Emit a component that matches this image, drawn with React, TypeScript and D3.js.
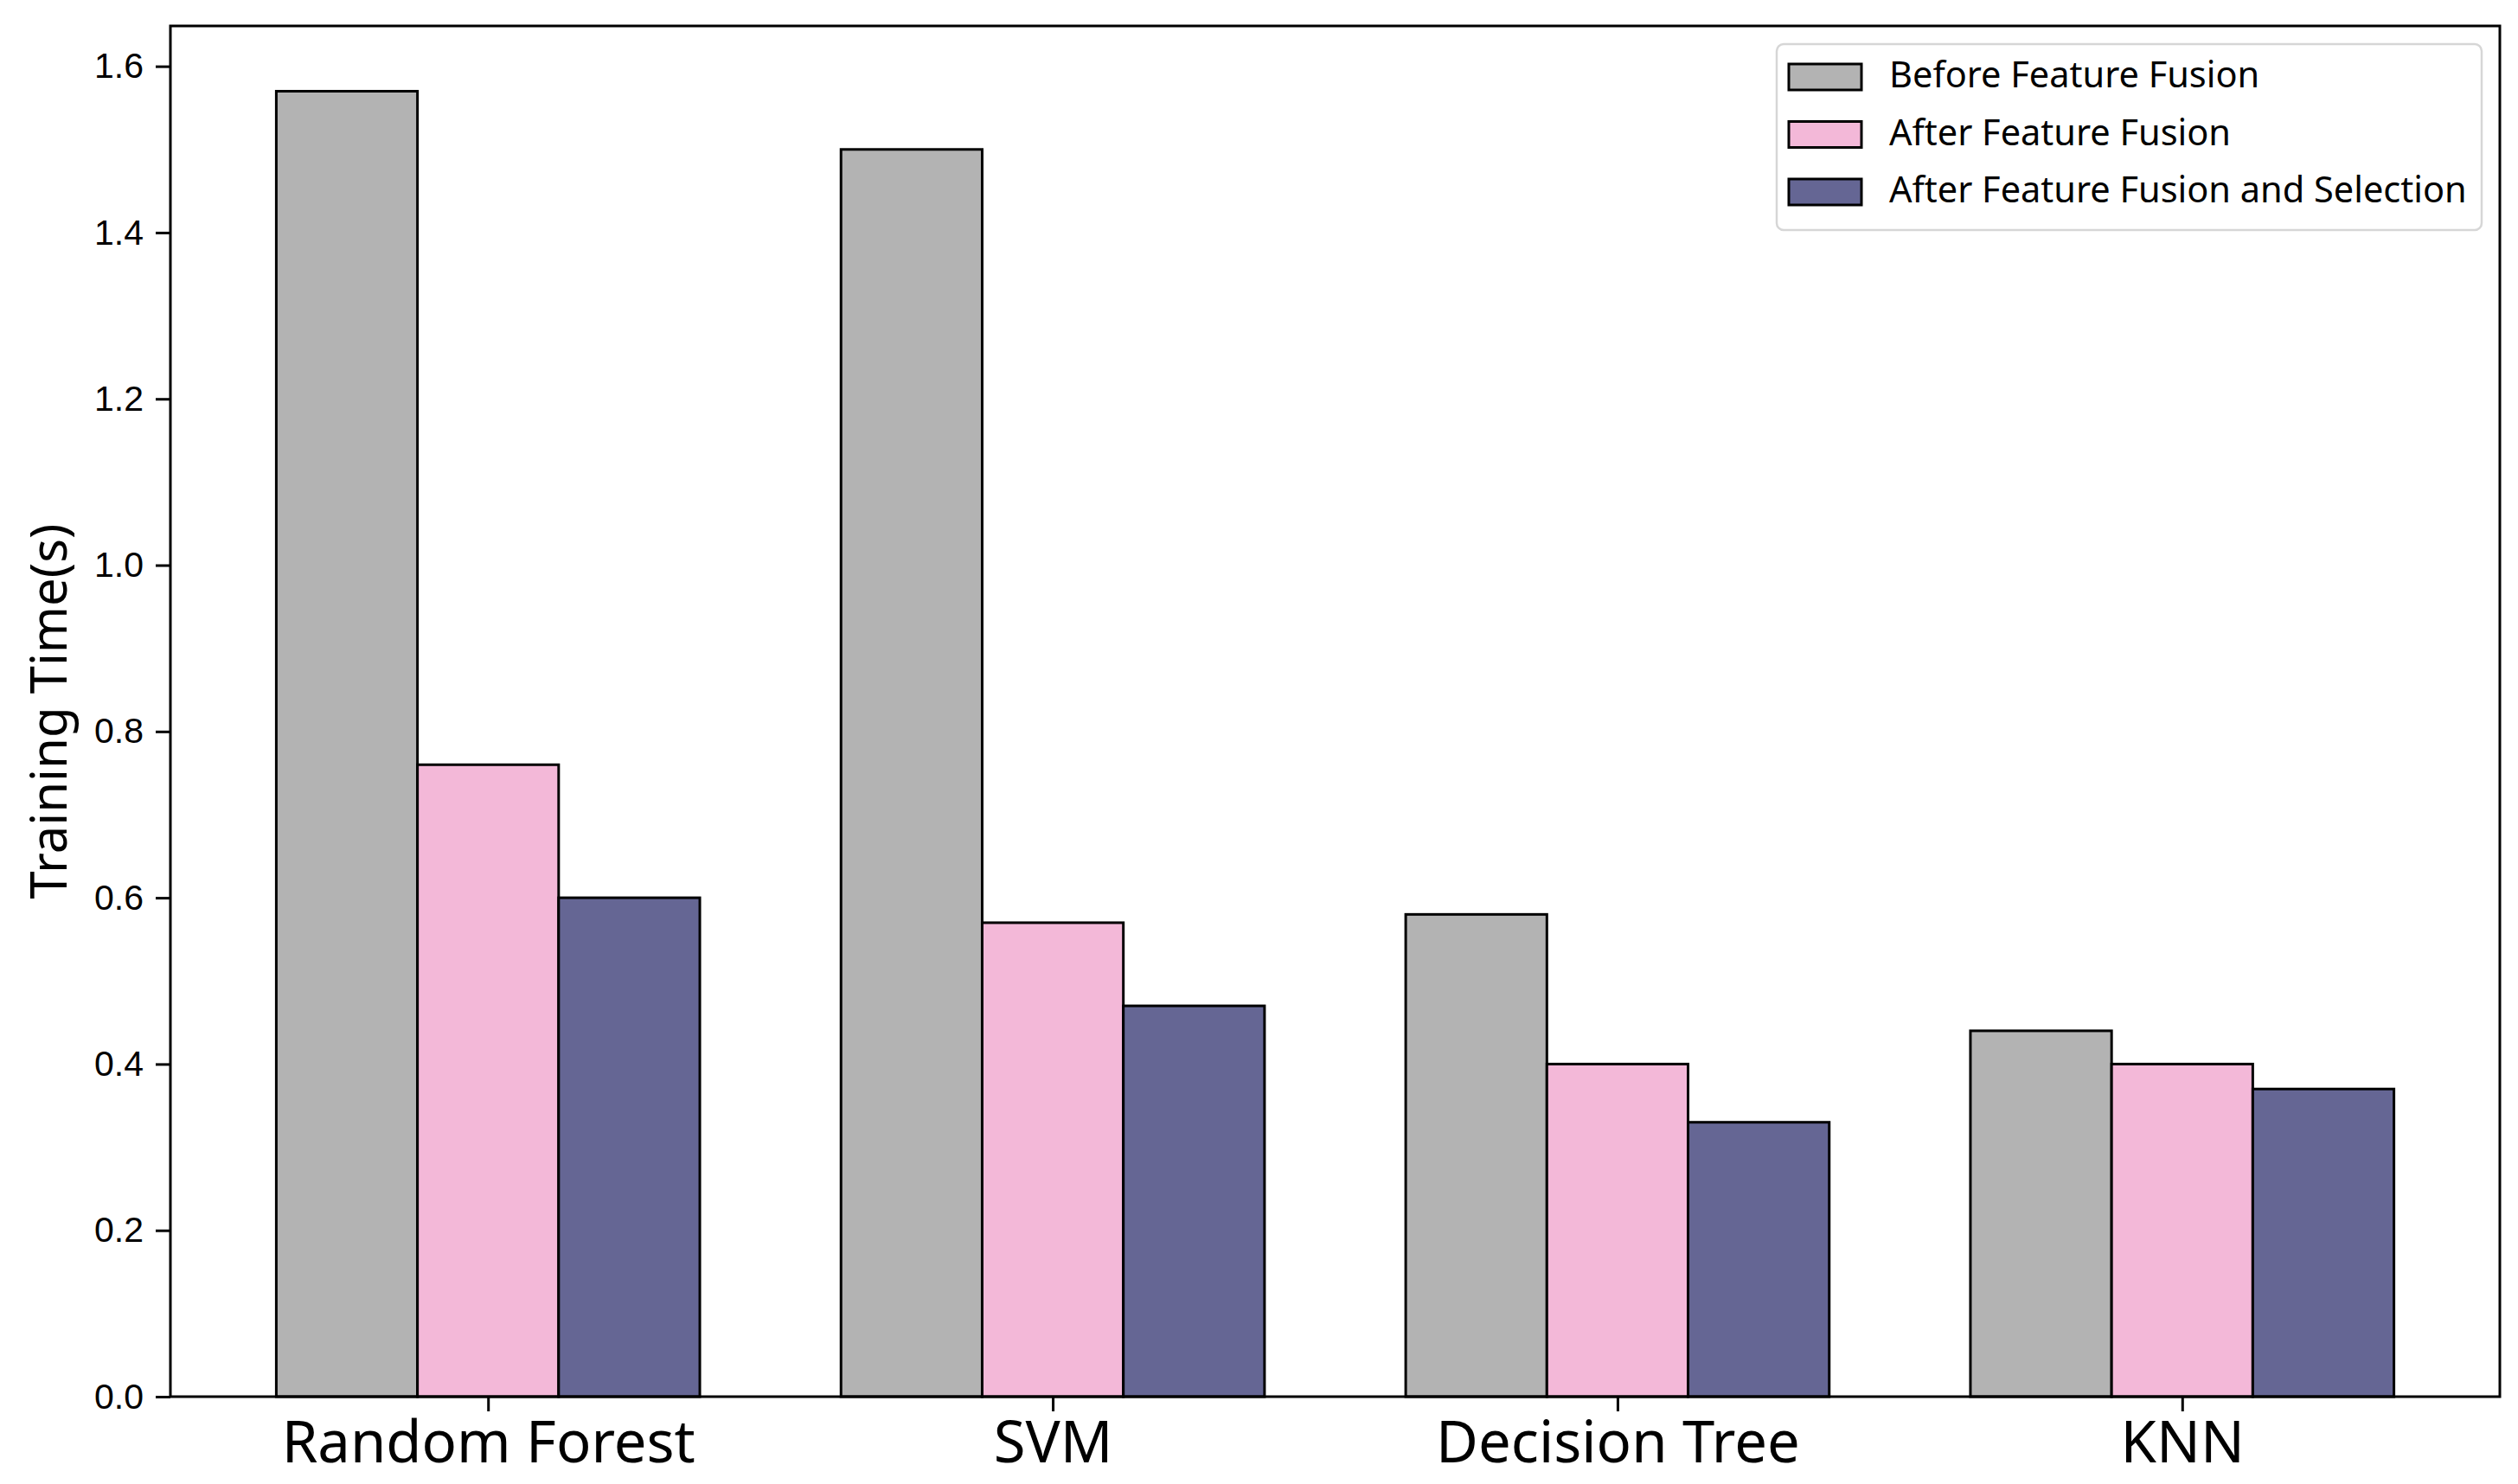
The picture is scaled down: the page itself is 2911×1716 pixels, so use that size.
import * as d3 from "d3";
import React, { RefObject, useEffect, useRef } from "react";

const categories = ["Random Forest", "SVM", "Decision Tree", "KNN"];
const seriesNames = [
  "Before Feature Fusion",
  "After Feature Fusion",
  "After Feature Fusion and Selection",
];
const beforeFusion = [1.57, 1.5, 0.58, 0.44];
const afterFusion = [0.76, 0.57, 0.4, 0.4];
const afterSelection = [0.6, 0.47, 0.33, 0.37];
const yTicks = [0, 0.2, 0.4, 0.6, 0.8, 1.0, 1.2, 1.4, 1.6];
const colors = ["#b3b3b3", "#f3b8d8", "#656694"];

const width = 2911;
const height = 1716;
const margin = { top: 30, right: 21, bottom: 101, left: 197 };
const humanFont = "'Noto Sans', 'Open Sans', sans-serif";
const tickFont = "'Liberation Sans', Arial, sans-serif";

const App = () => {
  const d3Ref: RefObject<HTMLDivElement> = useRef(null);

  useEffect(() => {
    document.body.style.margin = "0";
    const series = [beforeFusion, afterFusion, afterSelection];
    const barWidth = 0.25;

    d3.select(d3Ref.current).selectAll("*").remove();
    const svg = d3
      .select(d3Ref.current)
      .append("svg")
      .attr("width", width)
      .attr("height", height)
      .style("display", "block")
      .style("background", "#fff");

    const x0 = -0.5625;
    const x1 = categories.length - 1 + 0.5625;
    const xScale = d3
      .scaleLinear()
      .domain([x0, x1])
      .range([margin.left, width - margin.right]);
    const yMax = d3.max(beforeFusion)! * 1.05;
    const yScale = d3
      .scaleLinear()
      .domain([0, yMax])
      .range([height - margin.bottom, margin.top]);

    // bars
    series.forEach((s, j) => {
      svg
        .append("g")
        .selectAll("rect")
        .data(s)
        .enter()
        .append("rect")
        .attr("x", (d, i) => xScale(i + (j - 1) * barWidth - barWidth / 2))
        .attr("y", (d) => yScale(d))
        .attr("width", xScale(barWidth) - xScale(0))
        .attr("height", (d) => yScale(0) - yScale(d))
        .attr("fill", colors[j])
        .attr("stroke", "#000")
        .attr("stroke-width", 3);
    });

    // y axis
    const yAxis = svg
      .append("g")
      .attr("transform", `translate(${margin.left},0)`)
      .call(
        d3
          .axisLeft(yScale)
          .tickValues(yTicks)
          .tickFormat(d3.format(".1f"))
          .tickSize(17)
          .tickPadding(14)
      );
    yAxis.select(".domain").remove();
    yAxis.selectAll("line").attr("stroke", "#000").attr("stroke-width", 3);
    yAxis
      .selectAll("text")
      .attr("font-family", tickFont)
      .attr("font-size", 41)
      .attr("fill", "#000");

    // x axis
    const xAxis = svg
      .append("g")
      .attr("transform", `translate(0,${height - margin.bottom})`)
      .call(
        d3
          .axisBottom(xScale)
          .tickValues(categories.map((c, i) => i))
          .tickFormat((d) => categories[d as number])
          .tickSize(17)
          .tickPadding(11)
      );
    xAxis.select(".domain").remove();
    xAxis.selectAll("line").attr("stroke", "#000").attr("stroke-width", 3);
    xAxis
      .selectAll("text")
      .attr("font-family", humanFont)
      .attr("font-size", 67)
      .attr("fill", "#000");

    // frame
    svg
      .append("rect")
      .attr("x", margin.left)
      .attr("y", margin.top)
      .attr("width", width - margin.left - margin.right)
      .attr("height", height - margin.top - margin.bottom)
      .attr("fill", "none")
      .attr("stroke", "#000")
      .attr("stroke-width", 3);

    // y label
    svg
      .append("text")
      .attr("transform", `translate(77,${(margin.top + height - margin.bottom) / 2}) rotate(-90)`)
      .attr("text-anchor", "middle")
      .attr("font-family", humanFont)
      .attr("font-size", 58)
      .attr("fill", "#000")
      .text("Training Time(s)");

    // legend
    const legend = svg.append("g");
    legend
      .append("rect")
      .attr("x", 2054)
      .attr("y", 51)
      .attr("width", 815)
      .attr("height", 215)
      .attr("rx", 8)
      .attr("fill", "#fff")
      .attr("fill-opacity", 0.8)
      .attr("stroke", "#d6d6d6")
      .attr("stroke-width", 2.5);
    seriesNames.forEach((name, j) => {
      const cy = 89 + j * 66.5;
      legend
        .append("rect")
        .attr("x", 2068)
        .attr("y", cy - 15)
        .attr("width", 84)
        .attr("height", 30)
        .attr("fill", colors[j])
        .attr("stroke", "#000")
        .attr("stroke-width", 3);
      legend
        .append("text")
        .attr("x", 2184)
        .attr("y", cy + 12)
        .attr("font-family", humanFont)
        .attr("font-size", 41.5)
        .attr("fill", "#000")
        .text(name);
    });
  }, [d3Ref]);

  return <div ref={d3Ref} />;
};

export default App;
